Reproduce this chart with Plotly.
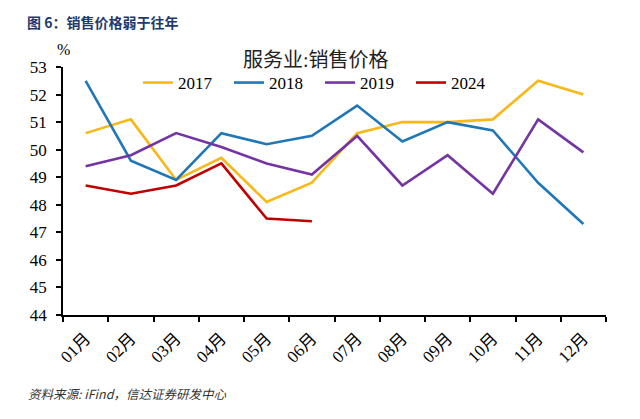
import plotly.graph_objects as go

months = ["01月", "02月", "03月", "04月", "05月", "06月", "07月", "08月", "09月", "10月", "11月", "12月"]
y2017 = [50.6, 51.1, 48.9, 49.7, 48.1, 48.8, 50.6, 51.0, 51.0, 51.1, 52.5, 52.0]
y2018 = [52.5, 49.6, 48.9, 50.6, 50.2, 50.5, 51.6, 50.3, 51.0, 50.7, 48.8, 47.3]
y2019 = [49.4, 49.8, 50.6, 50.1, 49.5, 49.1, 50.5, 48.7, 49.8, 48.4, 51.1, 49.9]
y2024 = [48.7, 48.4, 48.7, 49.5, 47.5, 47.4]

series = [
    ("2017", y2017, "#F7B818"),
    ("2018", y2018, "#1F77B8"),
    ("2019", y2019, "#7434A4"),
    ("2024", y2024, "#C00000"),
]

serif = "Liberation Serif, Times New Roman, Noto Sans CJK SC, serif"

# page body has an 8px offset; plot area target on screen: x 63..606, y 67..315
L, T, W, H = 55, 59, 543, 248

fig = go.Figure()
for name, vals, color in series:
    fig.add_trace(go.Scatter(
        x=months[:len(vals)], y=vals, name=name, mode="lines",
        line=dict(color=color, width=2.6),
    ))

fig.update_layout(
    width=640, height=419,
    margin=dict(l=L, r=640 - L - W, t=T, b=419 - T - H),
    paper_bgcolor="white", plot_bgcolor="white",
    showlegend=True,
    legend=dict(
        orientation="h", x=(143 - 63 - 5) / W, y=1 - (83 - 67) / H,
        xanchor="left", yanchor="middle",
        font=dict(family=serif, size=17, color="black"),
        bgcolor="rgba(0,0,0,0)", entrywidth=46, entrywidthmode="pixels",
        itemwidth=30,
    ),
    font=dict(family=serif, color="black"),
)

fig.update_xaxes(
    type="category", categoryorder="array", categoryarray=months,
    range=[-0.5, 11.5], showline=True, linecolor="black", linewidth=1.5,
    ticks="outside", tickson="boundaries", ticklen=5, tickcolor="black", tickwidth=1.5,
    tickangle=-45, tickfont=dict(family=serif, size=17, color="black"),
    ticklabelstandoff=5,
    showgrid=False, zeroline=False,
)
fig.update_yaxes(
    range=[44, 53], dtick=1, tick0=44, showline=True, linecolor="black", linewidth=1.5,
    ticks="outside", ticklen=5, tickcolor="black", tickwidth=1.5,
    tickfont=dict(family=serif, size=17, color="black"), ticklabelstandoff=6,
    showgrid=False, zeroline=False,
)

fig.add_annotation(
    text="<b>图 6：销售价格弱于往年</b>", xref="paper", yref="paper",
    x=-(63 - 25) / W, y=1 + (67 - 22) / H, xanchor="left", yanchor="middle",
    showarrow=False, font=dict(family="Noto Sans CJK SC", size=14, color="#1F3A6E"),
)
fig.add_annotation(
    text="服务业:销售价格", xref="paper", yref="paper",
    x=(316 - 63) / W, y=1 + (67 - 60) / H, xanchor="center", yanchor="middle",
    showarrow=False, font=dict(family=serif, size=20, color="#222222"),
)
fig.add_annotation(
    text="%", xref="paper", yref="paper",
    x=0, y=1 + (67 - 49) / H, xanchor="center", yanchor="middle",
    showarrow=False, font=dict(family=serif, size=16, color="black"),
)
fig.add_annotation(
    text="<i>资料来源: iFind，信达证券研发中心</i>", xref="paper", yref="paper",
    x=-(63 - 26) / W, y=-(393 - 315) / H, xanchor="left", yanchor="middle",
    showarrow=False, font=dict(family="Noto Sans CJK SC", size=12.5, color="#333333"),
)

fig.write_html("out.html")
